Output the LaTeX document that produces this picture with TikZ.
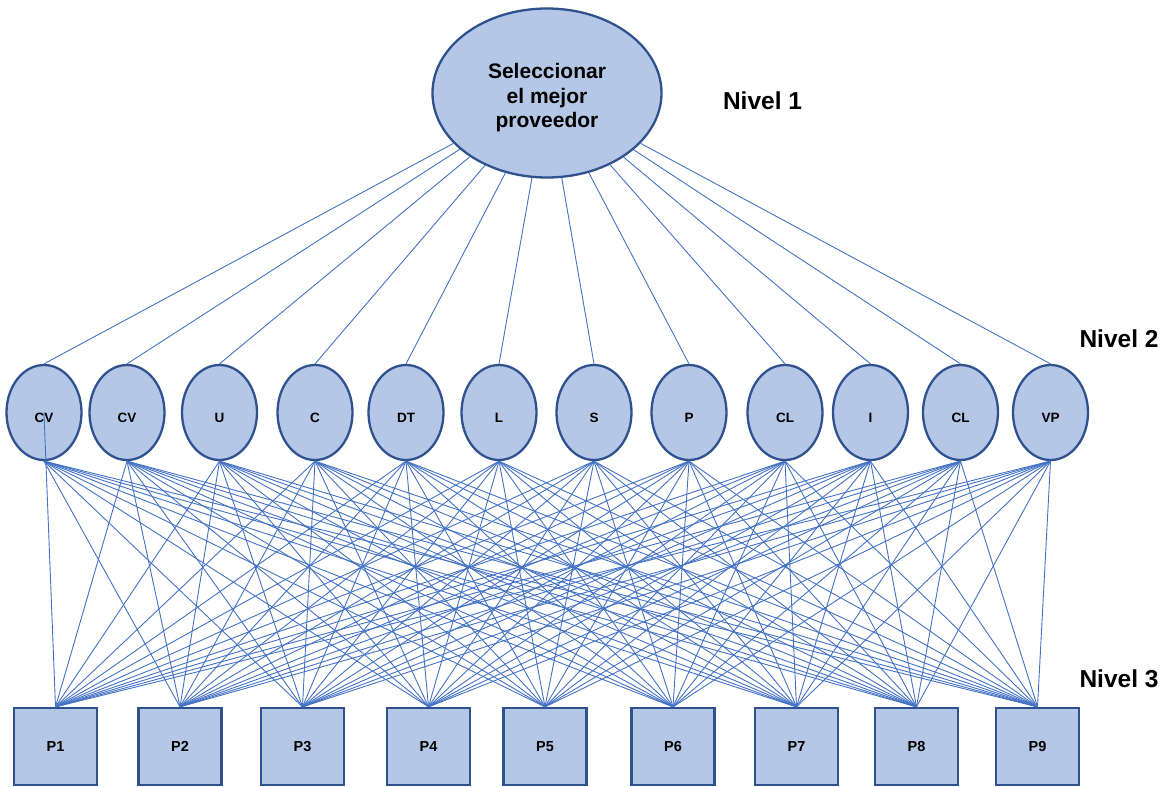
\documentclass[tikz,border=0pt]{standalone}
\usepackage{fontspec}
\setmainfont{Liberation Sans}
\usetikzlibrary{shapes.geometric}
\definecolor{nodefill}{RGB}{180,199,231}
\definecolor{nodeline}{RGB}{47,82,143}
\definecolor{edgeblue}{RGB}{68,114,196}
\tikzset{
  goal/.style={ellipse, draw=nodeline, fill=nodefill, line width=2.3pt,
    minimum width=229pt, minimum height=169pt, inner sep=0pt, align=center,
    font=\fontsize{21}{24.5}\selectfont\bfseries},
  crit/.style={ellipse, draw=nodeline, fill=nodefill, line width=2.3pt,
    minimum width=75pt, minimum height=95pt, inner sep=0pt,
    text height=20pt, text depth=0pt,
    font=\fontsize{13.5}{15}\selectfont\bfseries},
  alt/.style={rectangle, draw=nodeline, fill=nodefill, line width=2.3pt,
    minimum width=83pt, minimum height=77pt, inner sep=0pt,
    font=\fontsize{14.5}{16}\selectfont\bfseries},
  lvl/.style={inner sep=0pt, font=\fontsize{24.5}{28}\selectfont\bfseries},
  edge/.style={draw=edgeblue, line width=0.9pt}
}
\begin{document}
\begin{tikzpicture}[x=1pt,y=-1pt]
\useasboundingbox (0,0) rectangle (1168,787);

% level 1: goal
\node[goal] (top) at (547,93) {\rule{0pt}{25pt}Seleccionar\\el mejor\\proveedor};
\node[lvl] (n1) at (762.5,100.5) {Nivel 1};

% level 2: criteria
\foreach \x/\t [count=\i] in {44/CV,127/CV,219.5/U,315/C,406/DT,499/L,594/S,689/P,785/CL,870.5/I,960.5/CL,1050.5/VP}
  \node[crit] (c\i) at (\x,412.5) {\t};
\node[lvl] (n2) at (1119,339) {Nivel 2};

% level 3: alternatives
\foreach \x [count=\j] in {55.5,180,302.5,428.5,545,673,796.5,916.5,1037.5}
  \node[alt] (p\j) at (\x,746.5) {P\j};
\node[lvl] (n3) at (1119,679) {Nivel 3};

% goal to every criterion
\foreach \i in {1,...,12}
  \draw[edge] (top) -- (c\i.north);

% every criterion to every alternative
\foreach \i in {1,...,12}
  \foreach \j in {1,...,9} {
    \ifnum\i\j=11
      \draw[edge] (p1.north) -- (c1.center);
    \else
      \draw[edge] (c\i.south) -- (p\j.north);
    \fi
  }
\end{tikzpicture}
\end{document}
